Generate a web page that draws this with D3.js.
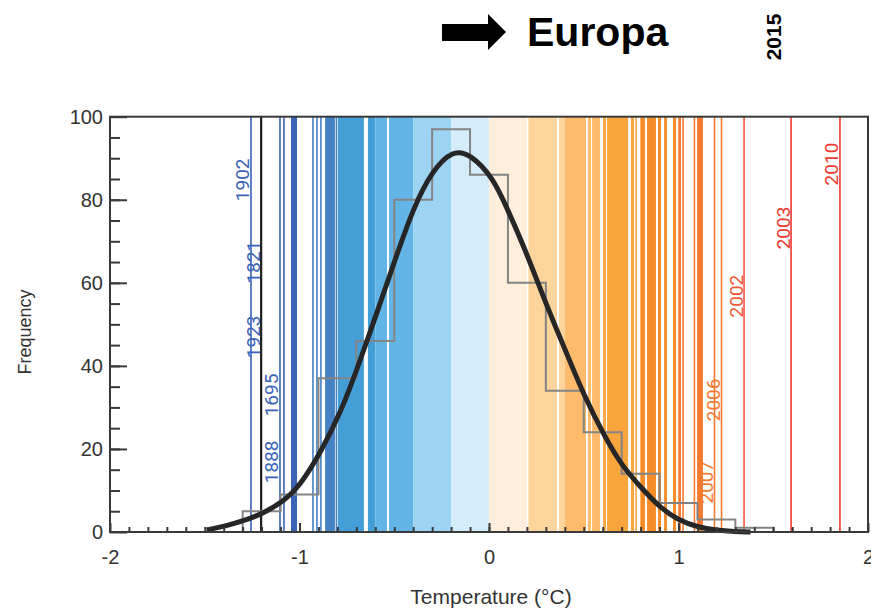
<!DOCTYPE html>
<html>
<head>
<meta charset="utf-8">
<script src="https://cdn.jsdelivr.net/npm/d3@7"></script>
<style>
  body { margin: 0; background: #fff; }
  svg { display: block; }
</style>
</head>
<body>
<div id="chart"></div>
<script>
// temperature anomaly (°C) ranges covered solid by yearly stripes
var stripeBands = [
  [-1.045, -1.013], [-0.865, -0.813], [-0.797, -0.660], [-0.639, -0.538],
  [-0.528, 0.200], [0.208, 0.359], [0.369, 0.512], [0.522, 0.538],
  [0.544, 0.586], [0.602, 0.617], [0.623, 0.734], [0.749, 0.765],
  [0.797, 0.823], [0.834, 0.881], [0.892, 0.908], [0.924, 0.939],
  [0.971, 0.987], [0.997, 1.013], [1.098, 1.129]
];
// single years drawn as thin lines
var stripeYears = [-1.256, -1.103, -1.082, -0.929, -0.908, -0.887, -0.805,
  0.776, 1.024, 1.084, 1.190, 1.227, 1.346, 1.594, 1.852];
var markedYear = -1.203;

// colour classes of the stripes
var colorBreaks = [-1.0, -0.8, -0.6, -0.4, -0.2, 0, 0.2, 0.4, 0.6, 0.8, 1.0, 1.25, 1.5];
var colorSteps = ["#3b63b7", "#4682c6", "#449fd8", "#62b5e6", "#9dd4f3", "#d5edfb",
  "#feeedb", "#fdd49c", "#fdbb6b", "#f9a53d", "#f48c28", "#f47a30", "#f2583a", "#ee3a30"];

// histogram
var binEdges = [-1.3, -1.1, -0.9, -0.7, -0.5, -0.3, -0.1, 0.1, 0.3, 0.5, 0.7, 0.9, 1.1, 1.3, 1.5];
var binCounts = [5, 9, 37, 46, 80, 97, 86, 60, 34, 24, 14, 7, 3, 1];

// fitted curve
var curveT = [-1.49, -1.4, -1.29, -1.2, -1.09, -1.0, -0.89, -0.78, -0.69, -0.59, -0.5, -0.4,
  -0.3, -0.19, -0.1, 0.02, 0.1, 0.2, 0.3, 0.41, 0.5, 0.61, 0.7, 0.81, 0.9, 1.0, 1.1, 1.2, 1.3, 1.38];
var curveF = [0.5, 1.3, 2.8, 4.3, 7.2, 11, 19, 29, 40, 53, 65, 78,
  87, 92, 91, 85.5, 77.5, 67, 55, 43, 33, 23, 16, 10.3, 6, 2.8, 1.2, 0.4, 0.1, 0];

// year labels
var labelYears = ["1902", "1821", "1923", "1695", "1888", "2007", "2006", "2002", "2003", "2010"];
var labelTemps = [-1.256, -1.203, -1.203, -1.103, -1.103, 1.190, 1.227, 1.346, 1.594, 1.852];
var labelFreqs = [84.8, 65, 47, 33, 16.9, 12, 31.8, 56.8, 73.2, 88.6];

var xTicks = [-2, -1, 0, 1, 2];
var yTicks = [0, 20, 40, 60, 80, 100];

var width = 871, height = 611;
var plotL = 110, plotR = 868, plotT = 116.7, plotB = 532;

var svg = d3.select('#chart').append('svg')
  .attr('width', width)
  .attr('height', height);

var x = d3.scaleLinear().domain([-2, 2]).range([plotL, plotR]);
var y = d3.scaleLinear().domain([0, 100]).range([plotB, plotT]);
var color = d3.scaleThreshold().domain(colorBreaks).range(colorSteps);

// stripes: split each band at the colour breaks
var pieces = [];
stripeBands.forEach(function(b) {
  var cuts = [b[0]].concat(colorBreaks.filter(function(c) { return c > b[0] && c < b[1]; }), [b[1]]);
  for (var i = 0; i < cuts.length - 1; i++) {
    pieces.push({ t0: cuts[i], t1: cuts[i + 1] });
  }
});

var stripes = svg.append('g');
stripes.selectAll('rect.band')
  .data(pieces)
  .enter().append('rect')
  .attr('class', 'band')
  .attr('x', function(d) { return x(d.t0); })
  .attr('width', function(d) { return x(d.t1) - x(d.t0); })
  .attr('y', plotT)
  .attr('height', plotB - plotT)
  .attr('fill', function(d) { return color((d.t0 + d.t1) / 2); });

stripes.selectAll('rect.year')
  .data(stripeYears)
  .enter().append('rect')
  .attr('class', 'year')
  .attr('x', function(d) { return x(d) - 0.8; })
  .attr('width', 1.6)
  .attr('y', plotT)
  .attr('height', plotB - plotT)
  .attr('fill', function(d) { return color(d); });

stripes.append('rect')
  .attr('x', x(markedYear) - 1)
  .attr('width', 2.2)
  .attr('y', plotT)
  .attr('height', plotB - plotT)
  .attr('fill', '#1e1e1e');

// year labels
svg.append('g').selectAll('text')
  .data(labelYears)
  .enter().append('text')
  .attr('transform', function(d, i) {
    return 'translate(' + (x(labelTemps[i]) - 1.5) + ',' + y(labelFreqs[i]) + ') rotate(-90)';
  })
  .attr('text-anchor', 'middle')
  .style('font-family', 'Roboto, "Open Sans", sans-serif')
  .style('font-size', '19px')
  .style('fill', function(d, i) { return color(labelTemps[i]); })
  .text(function(d) { return d; });

// histogram outline
var stepPts = [[binEdges[0], 0]];
binCounts.forEach(function(c, i) { stepPts.push([binEdges[i], c]); });
stepPts.push([binEdges[binEdges.length - 1], 0]);

svg.append('path')
  .datum(stepPts)
  .attr('d', d3.line()
    .x(function(d) { return x(d[0]); })
    .y(function(d) { return y(d[1]); })
    .curve(d3.curveStepAfter))
  .attr('fill', 'none')
  .attr('stroke', '#848484')
  .attr('stroke-width', 2);

// fitted curve
svg.append('path')
  .datum(d3.zip(curveT, curveF))
  .attr('d', d3.line()
    .x(function(d) { return x(d[0]); })
    .y(function(d) { return y(d[1]); })
    .curve(d3.curveBasis))
  .attr('fill', 'none')
  .attr('stroke', '#262626')
  .attr('stroke-width', 5)
  .attr('stroke-linecap', 'butt');

// frame
svg.append('rect')
  .attr('x', plotL).attr('y', plotT)
  .attr('width', plotR - plotL).attr('height', plotB - plotT)
  .attr('fill', 'none')
  .attr('stroke', '#3a3a3a')
  .attr('stroke-width', 2);

// axes, ticks pointing inward
var tickFont = 'Liberation Sans, Arial, sans-serif';

var xMinor = svg.append('g')
  .attr('transform', 'translate(0,' + plotB + ')')
  .call(d3.axisBottom(x).tickValues(d3.range(-19, 20).map(function(k) { return k / 10; }))
    .tickSize(-5).tickFormat(''));
var xMajor = svg.append('g')
  .attr('transform', 'translate(0,' + plotB + ')')
  .call(d3.axisBottom(x).tickValues(xTicks).tickSize(-9).tickPadding(18)
    .tickFormat(function(d) { return String(d); }));

var yMinor = svg.append('g')
  .attr('transform', 'translate(' + plotL + ',0)')
  .call(d3.axisLeft(y).tickValues(d3.range(5, 100, 5)).tickSize(-10).tickFormat(''));
var yMajor = svg.append('g')
  .attr('transform', 'translate(' + plotL + ',0)')
  .call(d3.axisLeft(y).tickValues(yTicks).tickSize(-17).tickPadding(7)
    .tickFormat(function(d) { return String(d); }));

[xMinor, xMajor, yMinor, yMajor].forEach(function(g) {
  g.select('.domain').remove();
  g.selectAll('line').attr('stroke', '#3a3a3a').attr('stroke-width', 2);
  g.selectAll('text')
    .style('font-family', tickFont)
    .style('font-size', '20px')
    .style('fill', '#333');
});

// axis titles
svg.append('text')
  .attr('x', (plotL + plotR) / 2 + 2)
  .attr('y', 604)
  .attr('text-anchor', 'middle')
  .style('font-family', tickFont)
  .style('font-size', '21px')
  .style('fill', '#333')
  .text('Temperature (°C)');

svg.append('text')
  .attr('transform', 'translate(31,332) rotate(-90)')
  .attr('text-anchor', 'middle')
  .style('font-family', tickFont)
  .style('font-size', '18px')
  .style('fill', '#333')
  .text('Frequency');

// title with arrow
svg.append('path')
  .attr('d', 'M442,24 L488,24 L488,14 L506,32 L488,50 L488,41 L442,41 Z')
  .attr('fill', '#000');

svg.append('text')
  .attr('x', 527)
  .attr('y', 46)
  .style('font-family', tickFont)
  .style('font-weight', 'bold')
  .style('font-size', '41px')
  .style('fill', '#000')
  .text('Europa');

svg.append('text')
  .attr('transform', 'translate(781,37) rotate(-90)')
  .attr('text-anchor', 'middle')
  .style('font-family', tickFont)
  .style('font-weight', 'bold')
  .style('font-size', '21px')
  .style('fill', '#000')
  .text('2015');
</script>
</body>
</html>
